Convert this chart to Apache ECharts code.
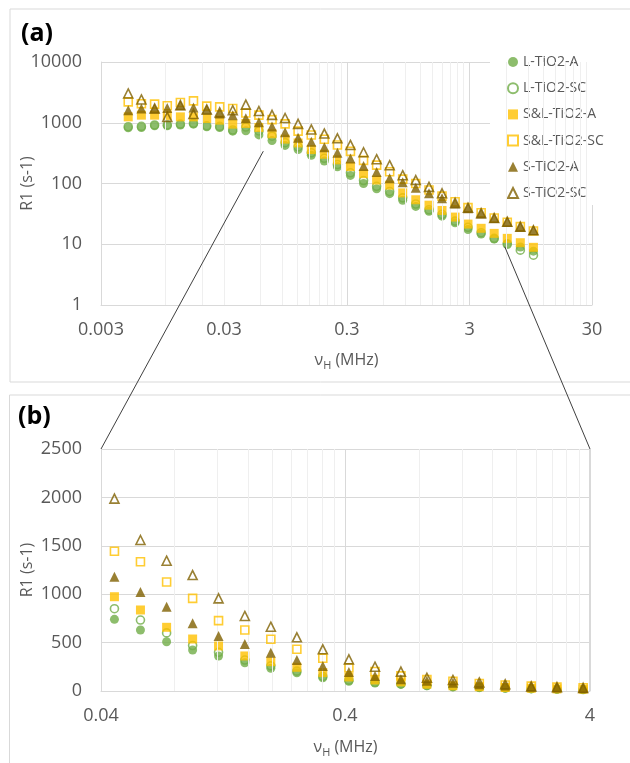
<!DOCTYPE html>
<html><head><meta charset="utf-8">
<script src="https://cdn.jsdelivr.net/npm/echarts@6/dist/echarts.min.js"></script>
<style>html,body{margin:0;padding:0;background:#fff}#c{width:630px;height:763px}</style>
</head><body><div id="c"></div>
<script>
// ---- data (frequency in MHz, R1 in s-1) ----
const freqs = [0.005,0.0064,0.0082,0.0104,0.0133,0.017,0.0218,0.0278,0.0355,0.0454,0.058,0.0742,0.0948,0.121,0.155,0.198,0.253,0.323,0.413,0.528,0.674,0.861,1.1,1.41,1.8,2.3,2.93,3.75,4.79,6.12,7.82,10];
const L_A   = [824,837,889,889,914,948,857,837,728,740,630,509,424,362,292,234,189,136,100,82,68,53,42,35,29,22.5,17.5,14.7,12.2,10.3,9.0,7.7];
const L_SC  = [860,870,920,920,950,980,890,870,760,850,733,600,470,400,320,260,205,150,112,90,74,58,46,37,31,24,19,15.5,12.5,10.0,8.0,6.6];
const SL_A  = [1250,1334,1334,1320,1250,1250,1175,1104,948,974,837,658,537,465,362,303,245,190,145,114,94,70,54,44,36,28,21.5,18.3,15.1,12.5,10.6,8.9];
const SL_SC = [2208,2050,2023,1900,2150,2290,1875,1828,1718,1443,1336,1126,957,727,630,534,431,338,240,201,156,118,100,78,62,50,40,33,27,23,19.5,16.5];
const S_A   = [1611,1718,1718,1750,1950,1786,1655,1422,1334,1181,1023,871,699,568,486,396,320,258,195,155,122,105,85,69,57,47,39,32,27,23.4,19.4,17.1];
const S_SC  = [3034,2417,1718,1250,1950,1390,1655,1480,1611,1987,1560,1346,1198,957,775,664,555,431,327,251,200,137,114,88,69,48,40,32.5,27,23.5,19.5,17];
const seriesNames = ['L-TiO2-A','L-TiO2-SC','S&L-TiO2-A','S&L-TiO2-SC','S-TiO2-A','S-TiO2-SC'];
const seriesValues = [L_A, L_SC, SL_A, SL_SC, S_A, S_SC];
// tick labels
const xTicksA = [0.003,0.03,0.3,3,30];
const yTicksA = [1,10,100,1000,10000];
const xTicksB = [0.04,0.4,4];
const yTicksB = [0,500,1000,1500,2000,2500];

// ---- styles ----
const GREEN='#70AD47', GOLD='#FFC000', BROWN='#7F6000';
const styles = [
  {symbol:'circle',  c:GREEN, open:false, size:9},
  {symbol:'circle',  c:GREEN, open:true,  size:8},
  {symbol:'rect',    c:GOLD,  open:false, size:9},
  {symbol:'rect',    c:GOLD,  open:true,  size:8},
  {symbol:'triangle',c:BROWN, open:false, size:10},
  {symbol:'triangle',c:BROWN, open:true,  size:9}
];
const FONT = '"Open Sans", "Noto Sans", sans-serif';
const LBL = '#595959';
const fmtLog = v => String(parseFloat(Number(v).toPrecision(1)));
const fmtLin = v => String(v);
function minorOf(ticks){ const out=[]; for(let i=0;i<ticks.length-1;i++) for(let k=2;k<=9;k++) out.push(ticks[i]*k); return out; }

const chart = echarts.init(document.getElementById('c'), null, {renderer:'canvas'});

function axisCommon(isLog, margin){
  return {
    axisLine:{show:true, lineStyle:{color:'#d9d9d9', width:1}},
    axisTick:{show:false},
    splitLine:{show:true, lineStyle:{color:'#d9d9d9', width:1}},
    axisLabel:{color:LBL, fontSize:18, fontFamily:FONT, margin:margin, showMinLabel:true, showMaxLabel:true,
               formatter: isLog ? fmtLog : fmtLin},
    nameTextStyle:{color:LBL, fontSize:16, fontFamily:FONT},
    nameMoveOverlap:false
  };
}
const nuName = '{n|ν}{s|H}{n| (MHz)}';
const nuRich = {n:{fontSize:16, color:LBL, fontFamily:FONT, lineHeight:22, verticalAlign:'middle'},
                s:{fontSize:11, color:LBL, fontFamily:FONT, lineHeight:22, verticalAlign:'bottom'}};

const series = [];
// minor vertical gridlines via markLine
[[0,xTicksA],[1,xTicksB]].forEach(([gi,ticks])=>{
  series.push({type:'scatter', xAxisIndex:gi, yAxisIndex:gi, data:[], silent:true, z:1,
    markLine:{silent:true, symbol:'none', animation:false, label:{show:false},
      lineStyle:{color:'#efefef', width:1, type:'solid'},
      emphasis:{disabled:true},
      data: minorOf(ticks).map(v=>({xAxis:v}))}});
});
[0,1].forEach(gi=>{
  seriesNames.forEach((nm,i)=>{
    const st = styles[i];
    series.push({
      type:'scatter', name:nm, xAxisIndex:gi, yAxisIndex:gi, z:2+i,
      symbol:st.symbol, symbolSize:st.size, clip:true, animation:false,
      itemStyle: st.open ? {color:'rgba(255,255,255,0)', borderColor:st.c, borderWidth:1.6}
                         : {color:st.c, borderWidth:0},
      data: freqs.map((f,j)=>[f, seriesValues[i][j]])
    });
  });
});

const option = {
  animation:false,
  backgroundColor:'#fff',
  textStyle:{fontFamily:FONT},
  grid:[
    {left:101, top:62, width:491, height:243, outerBoundsMode:'none', containLabel:false},
    {left:101, top:449, width:489, height:242, outerBoundsMode:'none', containLabel:false}
  ],
  xAxis:[
    Object.assign(axisCommon(true, 16), {type:'log', gridIndex:0, logBase:10, min:xTicksA[0], max:xTicksA[xTicksA.length-1], interval:1,
      name:nuName, nameLocation:'middle', nameGap:44, nameTextStyle:{rich:nuRich}}),
    Object.assign(axisCommon(true, 16), {type:'log', gridIndex:1, logBase:10, min:xTicksB[0], max:xTicksB[xTicksB.length-1], interval:1,
      name:nuName, nameLocation:'middle', nameGap:45, nameTextStyle:{rich:nuRich}})
  ],
  yAxis:[
    Object.assign(axisCommon(true, 19), {type:'log', gridIndex:0, logBase:10, min:yTicksA[0], max:yTicksA[yTicksA.length-1], interval:1,
      name:'R1 (s-1)', nameLocation:'middle', nameGap:66, nameRotate:90}),
    Object.assign(axisCommon(false, 19), {type:'value', gridIndex:1, min:yTicksB[0], max:yTicksB[yTicksB.length-1], interval:500,
      name:'R1 (s-1)', nameLocation:'middle', nameGap:66, nameRotate:90})
  ],
  legend:{
    orient:'vertical', left:490, top:46, data:seriesNames,
    backgroundColor:'#fff', padding:[8,14,4,17],
    itemWidth:10, itemHeight:10, itemGap:10.2,
    selectedMode:false,
    textStyle:{color:LBL, fontSize:14, fontFamily:FONT, lineHeight:16}
  },
  series
};
chart.setOption(option);

// annotation: frames, panel letters, zoom connector lines
const pA1 = chart.convertToPixel({gridIndex:0}, [0.063, 340]);
const pB1 = chart.convertToPixel({gridIndex:1}, [xTicksB[0], yTicksB[yTicksB.length-1]]);
const pA2 = chart.convertToPixel({gridIndex:0}, [5.84, 9.1]);
const pB2 = chart.convertToPixel({gridIndex:1}, [xTicksB[xTicksB.length-1], yTicksB[yTicksB.length-1]]);
chart.setOption({
  graphic:[
    {type:'rect', shape:{x:10, y:9, width:630, height:373}, style:{fill:'none', stroke:'#d9d9d9', lineWidth:1}, z:0, silent:true},
    {type:'rect', shape:{x:9.5, y:395, width:630, height:400}, style:{fill:'none', stroke:'#d9d9d9', lineWidth:1}, z:0, silent:true},
    {type:'text', left:21, top:21, style:{text:'(a)', fontSize:25, fontWeight:'bold', fontFamily:FONT, fill:'#000'}, z:10},
    {type:'text', left:18, top:404, style:{text:'(b)', fontSize:25, fontWeight:'bold', fontFamily:FONT, fill:'#000'}, z:10},
    {type:'line', shape:{x1:pA1[0], y1:pA1[1], x2:pB1[0], y2:pB1[1]}, style:{stroke:'#404040', lineWidth:1}, z:100, silent:true},
    {type:'line', shape:{x1:pA2[0], y1:pA2[1], x2:pB2[0], y2:pB2[1]}, style:{stroke:'#404040', lineWidth:1}, z:100, silent:true}
  ]
});
</script>
</body></html>
